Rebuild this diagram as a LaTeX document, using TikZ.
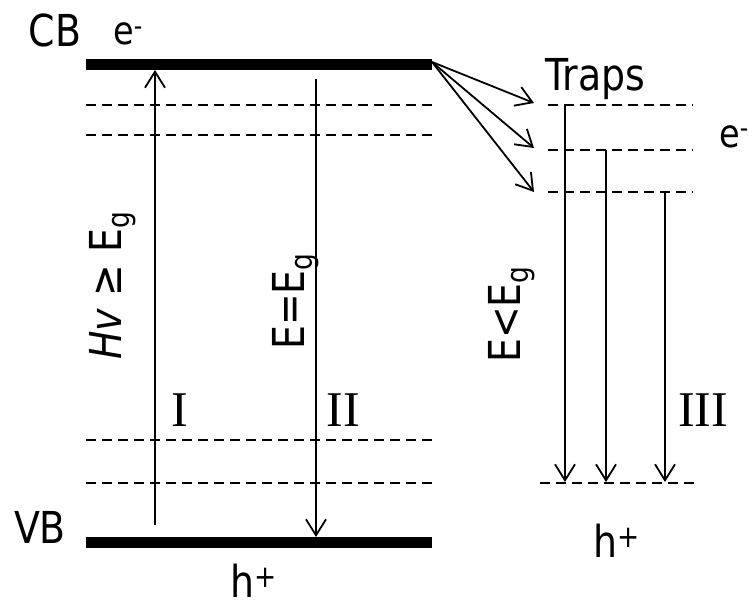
\documentclass[tikz,border=0pt]{standalone}
\usepackage{fontspec}
\setmainfont{DejaVu Sans}[FakeStretch=0.86]
\newfontfamily\romanfont{Liberation Serif}
\usetikzlibrary{arrows.meta}
\begin{document}
\begin{tikzpicture}[x=1pt,y=-1pt,
  band/.style={line width=11pt},
  level/.style={line width=1.5pt, dash pattern=on 10pt off 6pt},
  trans/.style={line width=1.8pt,-{Straight Barb[length=16pt,width=20pt]}},
  lbl/.style={font=\fontsize{44}{48}\selectfont, inner sep=0pt},
  elbl/.style={font=\fontsize{39}{42}\selectfont, inner sep=0pt},
  num/.style={font=\romanfont\fontsize{50}{54}\selectfont, inner sep=0pt}]
\useasboundingbox (0,0) rectangle (749,602);
% bands
\coordinate (cbL) at (86,64.5);
\coordinate (cbR) at (432,64.5);
\coordinate (vbL) at (86,542);
\coordinate (vbR) at (432,542);
\draw[band] (cbL) -- (cbR);
\draw[band] (vbL) -- (vbR);
% left levels
\foreach \y/\n in {105/a,135/b,440/c,483/d}{
  \coordinate (l\n L) at (86,\y); \coordinate (l\n R) at (432,\y);
  \draw[level] (l\n L) -- (l\n R);
}
% right levels
\foreach \y/\n in {105/a,150/b,192/c}{
  \coordinate (r\n L) at (548,\y); \coordinate (r\n R) at (693,\y);
  \draw[level] (r\n L) -- (r\n R);
}
\coordinate (rdL) at (540,483); \coordinate (rdR) at (700,483);
\draw[level] (rdL) -- (rdR);
% transition I and II
\coordinate (Is) at (155,525); \coordinate (Ie) at (155,70);
\draw[trans] (Is) -- (Ie);
\coordinate (IIs) at (316,79); \coordinate (IIe) at (316,537);
\draw[trans] (IIs) -- (IIe);
% trap arrows
\coordinate (ts) at (432,62);
\coordinate (t1) at (534,103);
\coordinate (t2) at (534,148);
\coordinate (t3) at (534,192);
\draw[trans] (ts) -- (t1);
\draw[trans] (ts) -- (t2);
\draw[trans] (ts) -- (t3);
% trap recombination
\coordinate (d1s) at (565,105); \coordinate (d1e) at (565,482);
\coordinate (d2s) at (606,150); \coordinate (d2e) at (606,482);
\coordinate (d3s) at (665,192); \coordinate (d3e) at (665,482);
\draw[trans] (d1s) -- (d1e);
\draw[trans] (d2s) -- (d2e);
\draw[trans] (d3s) -- (d3e);
% labels
\node[lbl,anchor=base] (cb) at (55,47) {CB};
\node[elbl,anchor=base west] (e1) at (113,45) {e\textsuperscript{-}};
\node[lbl,anchor=base west] (traps) at (545,90) {Traps};
\node[elbl,anchor=base west] (e2) at (719,147) {e\textsuperscript{-}};
\node[lbl,rotate=90,anchor=base west] (hv) at (121,360) {\textit{Hv} ≥ E\textsubscript{g}};
\node[lbl,rotate=90,anchor=base west] (eeq) at (304,350) {E=E\textsubscript{g}};
\node[lbl,rotate=90,anchor=base west] (elt) at (520,363) {E<E\textsubscript{g}};
\node[num,anchor=base] (n1) at (180,426) {I};
\node[num,anchor=base] (n2) at (343,426) {II};
\node[num,anchor=base] (n3) at (703,426) {III};
\node[lbl,anchor=base] (vb) at (40,543) {VB};
\node[lbl,anchor=base west] (h1) at (230,597) {h\textsuperscript{+}};
\node[lbl,anchor=base west] (h2) at (593,557) {h\textsuperscript{+}};
\end{tikzpicture}
\end{document}
